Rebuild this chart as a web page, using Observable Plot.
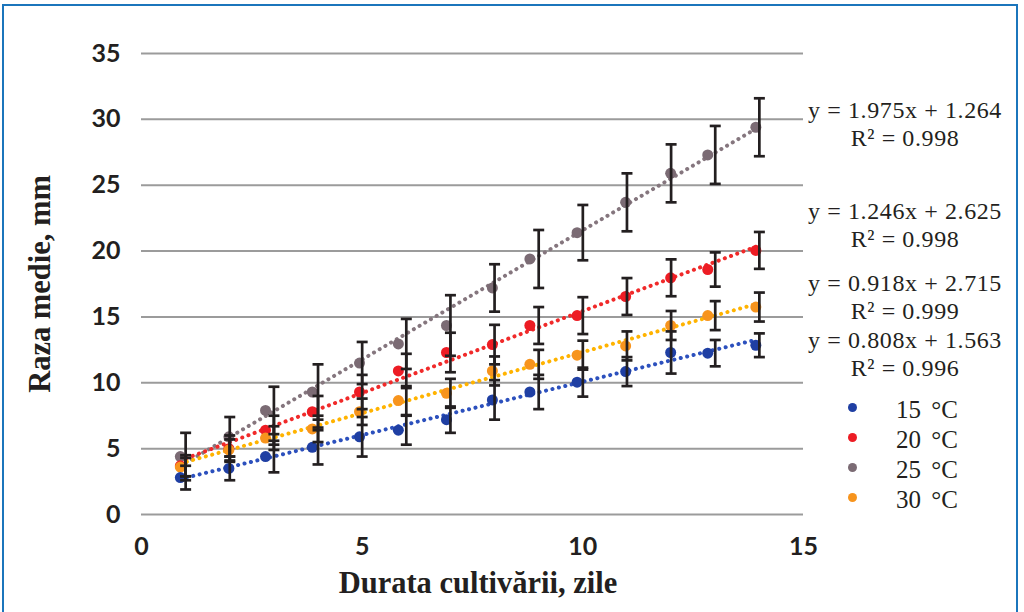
<!DOCTYPE html>
<html>
<head>
<meta charset="utf-8">
<script src="https://cdn.jsdelivr.net/npm/d3@7"></script>
<script src="https://cdn.jsdelivr.net/npm/@observablehq/plot@0.6"></script>
<style>
  html, body { margin: 0; padding: 0; background: #fff; }
  #wrap { position: relative; width: 1024px; height: 612px; overflow: hidden; background: #fff; }
  #frame { position: absolute; left: 2px; top: 4px; width: 1016px; height: 640px; border: 2px solid #1b75bc; box-sizing: border-box; pointer-events: none; }
  #chart { position: absolute; left: 0; top: 0; }
  .serif { font-family: "Liberation Serif", "Times New Roman", serif; color: #231f20; }
  .ttl { position: absolute; font-weight: bold; font-size: 30.5px; white-space: nowrap; line-height: 1; }
  .eq { position: absolute; font-size: 24px; line-height: 1; letter-spacing: 0.6px; white-space: nowrap; text-align: center; width: 230px; left: 790px; }
  .leg { position: absolute; font-size: 25px; line-height: 1; white-space: nowrap; left: 896px; word-spacing: 4px; }
  .legdot { position: absolute; width: 9px; height: 9px; border-radius: 50%; left: 848px; }
</style>
</head>
<body>
<div id="wrap">
  <div id="chart"></div>
  <div id="overlay"></div>
  <div id="frame"></div>
</div>
<script>
// ---- data ----
const seriesNames = ["15 °C", "20 °C", "25 °C", "30 °C"];
const pointColors = ["#1f3fa3", "#ed1c24", "#7b6b74", "#f7941d"];
const lineColors = ["#2c50bd", "#f02a2a", "#85767e", "#ffb300"];
const days = [1, 2, 3, 4, 5, 6, 7, 8, 9, 10, 11, 12, 13, 14];
const pointDays = [0.88, 1.98, 2.81, 3.87, 4.94, 5.82, 6.91, 7.95, 8.8, 9.87, 10.97, 11.99, 12.83, 13.92];
const radius15 = [2.8, 3.5, 4.4, 5.1, 5.9, 6.4, 7.2, 8.7, 9.3, 10.05, 10.85, 12.3, 12.25, 12.85];
const radius20 = [3.7, 5.0, 6.4, 7.8, 9.3, 10.9, 12.3, 12.9, 14.35, 15.1, 16.55, 17.97, 18.6, 20.05];
const radius25 = [4.4, 5.9, 7.9, 9.3, 11.5, 12.95, 14.35, 17.2, 19.4, 21.4, 23.7, 25.9, 27.3, 29.4];
const radius30 = [3.6, 4.9, 5.8, 6.5, 7.8, 8.65, 9.2, 10.9, 11.4, 12.1, 12.8, 14.35, 15.1, 15.75];
const err15 = [0.9, 0.9, 1.2, 1.3, 1.5, 1.1, 1.0, 1.5, 1.3, 1.1, 1.1, 1.6, 1.0, 0.9];
const err20 = [0.8, 1.0, 1.1, 1.2, 1.3, 1.3, 1.5, 1.5, 1.4, 1.4, 1.4, 1.4, 1.3, 1.4];
const err25 = [1.8, 1.5, 1.8, 2.1, 1.6, 1.9, 2.3, 1.8, 2.2, 2.1, 2.2, 2.2, 2.2, 2.2];
const err30 = [0.7, 0.8, 0.9, 1.0, 1.0, 1.1, 1.1, 1.1, 1.1, 1.1, 1.1, 1.1, 1.1, 1.1];
const equations = ["y = 1.975x + 1.264", "y = 1.246x + 2.625", "y = 0.918x + 2.715", "y = 0.808x + 1.563"];
const rSquared = ["R² = 0.998", "R² = 0.998", "R² = 0.999", "R² = 0.996"];
const xTicks = [0, 5, 10, 15];
const yTicks = [0, 5, 10, 15, 20, 25, 30, 35];
const xTitle = "Durata cultivării, zile";
const yTitle = "Raza medie, mm";

// ---- build table ----
const values = [radius15, radius20, radius25, radius30];
const errs = [err15, err20, err25, err30];
const rows = [];
seriesNames.forEach((s, k) => {
  days.forEach((d, i) => {
    rows.push({series: s, k, day: d, pday: pointDays[i], v: values[k][i], e: errs[k][i]});
  });
});

const capSymbol = {
  draw(context, size) {
    const w = Math.sqrt(size / Math.PI);
    context.moveTo(-w, 0);
    context.lineTo(w, 0);
  }
};

const marks = [
  Plot.gridY(yTicks, {stroke: "#9b9b9b", strokeOpacity: 1, strokeWidth: 2}),
  Plot.axisY({ticks: yTicks, tickSize: 0, tickPadding: 21, fontSize: 25, fontFamily: "Lato", fontWeight: "bold", label: null, fill: "#231f20"}),
  Plot.axisX({ticks: xTicks, tickSize: 0, tickPadding: 23, fontSize: 25, fontFamily: "Lato", fontWeight: "bold", label: null, fill: "#231f20"})
];
// trend lines (dotted), drawn beneath the points
[2, 1, 3, 0].forEach(k => {
  const data = rows.filter(r => r.k === k);
  marks.push(Plot.linearRegressionY(data, {x: "pday", y: "v", ci: 0, stroke: lineColors[k], strokeWidth: 4, strokeDasharray: "0.1,6.5", strokeLinecap: "round"}));
});
// points
[2, 1, 3, 0].forEach(k => {
  const data = rows.filter(r => r.k === k);
  marks.push(Plot.dot(data, {x: "pday", y: "v", r: 5.5, fill: pointColors[k], stroke: "none"}));
});
// error bars
marks.push(Plot.ruleX(rows, {x: "day", y1: r => r.v - r.e, y2: r => r.v + r.e, stroke: "#231f20", strokeWidth: 2.7}));
marks.push(Plot.dot(rows, {x: "day", y: r => r.v - r.e, symbol: capSymbol, r: 5.5, stroke: "#231f20", strokeWidth: 2.7, fill: "none"}));
marks.push(Plot.dot(rows, {x: "day", y: r => r.v + r.e, symbol: capSymbol, r: 5.5, stroke: "#231f20", strokeWidth: 2.7, fill: "none"}));

const chart = Plot.plot({
  width: 1024,
  height: 612,
  marginLeft: 141,
  marginRight: 221,
  marginTop: 53,
  marginBottom: 98,
  x: {domain: [0, 15]},
  y: {domain: [0, 35]},
  style: {background: "transparent"},
  marks
});
document.getElementById("chart").appendChild(chart);

// ---- overlay text: titles, equations, legend ----
const ov = document.getElementById("overlay");
function addDiv(cls, text, style) {
  const d = document.createElement("div");
  d.className = cls;
  d.textContent = text;
  Object.assign(d.style, style);
  ov.appendChild(d);
  return d;
}
addDiv("serif ttl", yTitle, {left: "40px", top: "284px", transform: "translate(-50%,-50%) rotate(-90deg)"});
addDiv("serif ttl", xTitle, {left: "478px", top: "583px", transform: "translate(-50%,-50%)"});
const eqCenters = [[111, 139], [212, 240], [284, 312], [341, 369]];
equations.forEach((eq, i) => {
  addDiv("serif eq", eq, {top: (eqCenters[i][0] - 13) + "px"});
  addDiv("serif eq", rSquared[i], {top: (eqCenters[i][1] - 13) + "px"});
});
const legCenters = [410, 440, 470, 500];
seriesNames.forEach((s, k) => {
  addDiv("serif leg", s, {top: (legCenters[k] - 13) + "px"});
  const dot = document.createElement("div");
  dot.className = "legdot";
  dot.style.top = (legCenters[k] - 7) + "px";
  dot.style.background = pointColors[k];
  ov.appendChild(dot);
});
</script>
</body>
</html>
